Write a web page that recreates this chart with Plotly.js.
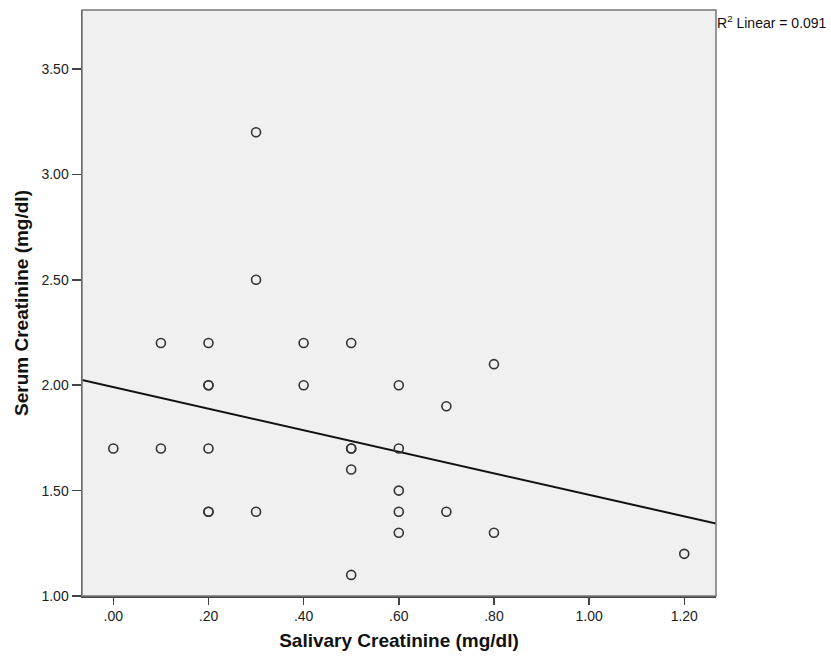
<!DOCTYPE html>
<html>
<head>
<meta charset="utf-8">
<script src="https://cdn.plot.ly/plotly-3.0.1.min.js"></script>
<style>body{margin:0;background:#fff}#chart{width:831px;height:661px}</style>
</head>
<body>
<div id="chart"></div>
<script>
// Salivary creatinine (x) and serum creatinine (y), mg/dl
const salivary = [0.0, 0.1, 0.1, 0.2, 0.2, 0.2, 0.2, 0.2, 0.2, 0.3, 0.3, 0.3, 0.4, 0.4,
                  0.5, 0.5, 0.5, 0.5, 0.5, 0.6, 0.6, 0.6, 0.6, 0.6, 0.7, 0.7, 0.8, 0.8, 1.2];
const serum    = [1.7, 2.2, 1.7, 2.2, 2.0, 2.0, 1.7, 1.4, 1.4, 3.2, 2.5, 1.4, 2.2, 2.0,
                  2.2, 1.7, 1.7, 1.6, 1.1, 2.0, 1.7, 1.5, 1.4, 1.3, 1.9, 1.4, 2.1, 1.3, 1.2];
// Linear fit line
const fitIntercept = [1.991];
const fitSlope = [-0.511];
const xTickVals = [0, 0.2, 0.4, 0.6, 0.8, 1.0, 1.2];
const xTickText = ['.00', '.20', '.40', '.60', '.80', '1.00', '1.20'];
const yTickVals = [1.0, 1.5, 2.0, 2.5, 3.0, 3.5];
const yTickText = ['1.00', '1.50', '2.00', '2.50', '3.00', '3.50'];
const r2Label = 'R<sup>2</sup> Linear = 0.091';

const xRange = [-0.0658, 1.2667];
const yRange = [1.0, 3.78];
const fitX = xRange.slice();
const fitY = fitX.map(x => fitIntercept[0] + fitSlope[0] * x);

const traces = [
  {
    x: fitX, y: fitY, type: 'scatter', mode: 'lines',
    line: {color: '#111', width: 2}, hoverinfo: 'skip'
  },
  {
    x: salivary, y: serum, type: 'scatter', mode: 'markers',
    marker: {symbol: 'circle-open', size: 9, color: '#333', line: {width: 1.6, color: '#333'}},
    cliponaxis: false
  }
];

const ff = 'Arial, "Liberation Sans", sans-serif';
const axisFont = {family: ff, size: 14, color: '#222'};
const titleFont = {family: ff, size: 19, color: '#111', weight: 'bold'};
const layout = {
  width: 831, height: 661,
  margin: {l: 82, r: 115, t: 10, b: 65, pad: 0},
  paper_bgcolor: '#ffffff',
  plot_bgcolor: '#f0f0f0',
  showlegend: false,
  font: axisFont,
  xaxis: {
    range: xRange, tickvals: xTickVals, ticktext: xTickText,
    showgrid: false, zeroline: false,
    showline: true, linecolor: '#444', linewidth: 1.5,
    ticks: 'outside', ticklen: 7, tickwidth: 1.5, tickcolor: '#444',
    tickfont: axisFont, automargin: false,
    title: {text: 'Salivary Creatinine (mg/dl)', standoff: 10, font: titleFont}
  },
  yaxis: {
    range: yRange, tickvals: yTickVals, ticktext: yTickText,
    showgrid: false, zeroline: false,
    showline: true, linecolor: '#444', linewidth: 1.5,
    ticks: 'outside', ticklen: 9, tickwidth: 1.5, tickcolor: '#444',
    tickfont: axisFont, automargin: false,
    title: {text: 'Serum Creatinine (mg/dl)', standoff: 8, font: titleFont}
  },
  shapes: [
    {type: 'rect', xref: 'paper', yref: 'paper', x0: 0, x1: 1, y0: 0, y1: 1,
     line: {color: '#777', width: 1.5}, fillcolor: 'rgba(0,0,0,0)'}
  ],
  annotations: [
    {xref: 'paper', yref: 'paper', x: 1, y: 1, xanchor: 'left', yanchor: 'top',
     yshift: -1, xshift: -1,
     text: r2Label, showarrow: false,
     font: {family: ff, size: 14, color: '#111'}}
  ]
};

Plotly.newPlot('chart', traces, layout, {displayModeBar: false, staticPlot: true});
</script>
</body>
</html>
